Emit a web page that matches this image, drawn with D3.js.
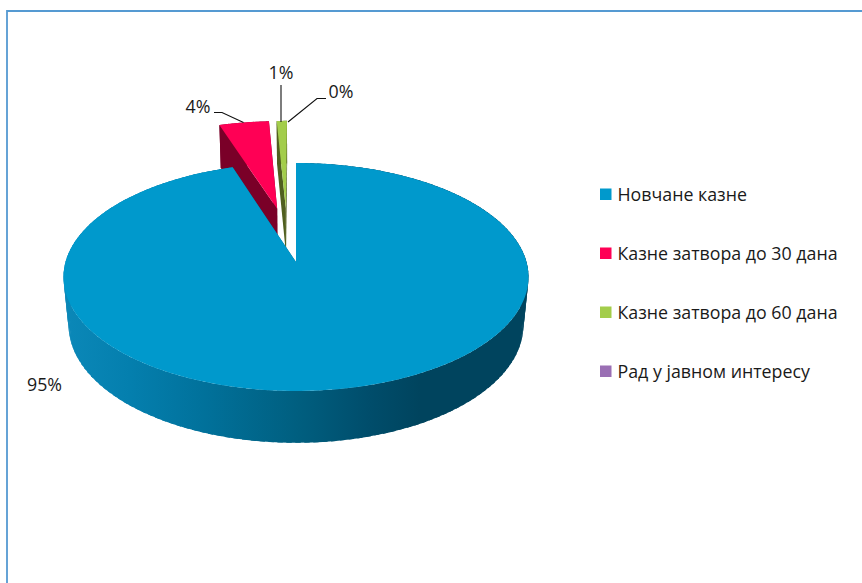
<!DOCTYPE html>
<html>
<head>
<meta charset="utf-8">
<script src="https://cdn.jsdelivr.net/npm/d3@7"></script>
<style>
    html, body { margin: 0; padding: 0; background: #fff; }
    svg { display: block; }
    text { font-family: "Open Sans", "Noto Sans", sans-serif; fill: #1a1a1a; }
</style>
</head>
<body>
<div id="chart"></div>
<script>
const categories = ['Новчане казне', 'Казне затвора до 30 дана', 'Казне затвора до 60 дана', 'Рад у јавном интересу'];
const values = [95, 4.15, 0.85, 0];
const percentLabels = ['95%', '4%', '1%', '0%'];
const topColors = ['#0099cc', '#ff0055', '#a3cd4b', '#9a6fb4'];
const sideColors = ['#00607f', '#7a0028', '#505f1f', '#4d3760'];

const width = 862, height = 583;
const labelSize = '17.8px';

const svg = d3.select('#chart').append('svg')
    .attr('width', width)
    .attr('height', height);
const defs = svg.append('defs');

// Frame of the chart area (only top and left are in the picture)
svg.append('path')
    .attr('d', `M7,${height}V11H${width}`)
    .attr('fill', 'none')
    .attr('stroke', '#559ad2')
    .attr('stroke-width', 1.8);

// Perspective view of the pie plane: u to the right, v towards the viewer, h down
const view = {cx: 296, cy: 262, a: 230.5, b: 112, c: 49, k: 0.1316, m: 0.022};
const explode = 0.257;

function project(u, v, h) {
    const w = 1 - view.k * v + view.m * h;
    return [view.cx + view.a * u / w, view.cy + (view.b * v + view.c * h) / w];
}

const pieAngles = d3.pie().sort(null).value(d => d)(values);
const blueMid = (pieAngles[0].startAngle + pieAngles[0].endAngle) / 2;
const centre = {u: -explode * Math.sin(blueMid), v: explode * Math.cos(blueMid)};

const slices = pieAngles.map((d, i) => {
    const mid = (d.startAngle + d.endAngle) / 2;
    return {
        index: i,
        start: d.startAngle,
        end: d.endAngle,
        u0: centre.u + explode * Math.sin(mid),
        v0: centre.v - explode * Math.cos(mid)
    };
}).filter(s => s.end > s.start);

const rimPoint = (s, angle, h) => project(s.u0 + Math.sin(angle), s.v0 - Math.cos(angle), h);
const tipPoint = (s, h) => project(s.u0, s.v0, h);
const line = d3.line();

// The rim goes darker from left to right, as in the lit 3D pie
const wallStops = [
    [64, '#0b88b8'], [130, '#047fae'], [200, '#01729c'], [296, '#005f80'],
    [370, '#004d6b'], [420, '#00445e'], [529, '#00445e']
];
const gradient = defs.append('linearGradient')
    .attr('id', 'wallShade')
    .attr('gradientUnits', 'userSpaceOnUse')
    .attr('x1', wallStops[0][0])
    .attr('x2', wallStops[wallStops.length - 1][0])
    .attr('y1', 0)
    .attr('y2', 0);
gradient.selectAll('stop')
    .data(wallStops)
    .enter()
    .append('stop')
    .attr('offset', d => (d[0] - wallStops[0][0]) / (wallStops[wallStops.length - 1][0] - wallStops[0][0]))
    .attr('stop-color', d => d[1]);

function drawSlice(s) {
    const g = svg.append('g');
    const steps = Math.max(2, Math.ceil((s.end - s.start) / (Math.PI / 90)));
    const angle = d3.scaleLinear().domain([0, steps]).range([s.start, s.end]);

    // cut faces
    [s.end, s.start].forEach(a => {
        g.append('path')
            .attr('d', line([tipPoint(s, 0), rimPoint(s, a, 0), rimPoint(s, a, 1), tipPoint(s, 1)]) + 'Z')
            .attr('fill', sideColors[s.index]);
    });

    // outer wall: overlapping facets make a clip, so no seams show between them
    const clipId = `wallClip${s.index}`;
    const clip = defs.append('clipPath').attr('id', clipId);
    d3.range(steps).forEach(j => {
        const a0 = angle(j), a1 = angle(Math.min(j + 1.6, steps));
        clip.append('path')
            .attr('d', line([rimPoint(s, a0, 0), rimPoint(s, a1, 0), rimPoint(s, a1, 1), rimPoint(s, a0, 1)]) + 'Z');
    });
    g.append('rect')
        .attr('width', width)
        .attr('height', height)
        .attr('clip-path', `url(#${clipId})`)
        .attr('fill', s.index === 0 ? 'url(#wallShade)' : sideColors[s.index]);

    // top surface
    const rim = d3.range(steps + 1).map(j => rimPoint(s, angle(j), 0));
    g.append('path')
        .attr('d', line([tipPoint(s, 0), ...rim]) + 'Z')
        .attr('fill', topColors[s.index]);
}

// back slices first, the big one covers them
slices.slice().reverse().forEach(drawSlice);

// Data labels
const labelLayout = [
    {x: 44.5, y: 391, leader: null},
    {x: 198, y: 113, leader: [[214, 112.5], [222, 112.5], [243.5, 122.5]]},
    {x: 281, y: 79, leader: [[281, 85], [281, 122]]},
    {x: 341, y: 98, leader: [[326, 98.5], [317, 98.5], [288, 122]]}
];

percentLabels.forEach((label, i) => {
    const l = labelLayout[i];
    svg.append('text')
        .attr('x', l.x)
        .attr('y', l.y)
        .attr('text-anchor', 'middle')
        .style('font-size', labelSize)
        .text(label);
    if (l.leader) {
        svg.append('path')
            .attr('d', line(l.leader))
            .attr('fill', 'none')
            .attr('stroke', '#111')
            .attr('stroke-width', 1.1);
    }
});

// Legend
const legendY = d3.scalePoint().domain(categories).range([194.5, 371.5]);
const legend = svg.selectAll('.legendItem')
    .data(categories)
    .enter()
    .append('g')
    .attr('class', 'legendItem')
    .attr('transform', d => `translate(600,${legendY(d)})`);

legend.append('rect')
    .attr('x', 0)
    .attr('y', -6)
    .attr('width', 11.5)
    .attr('height', 11.5)
    .attr('fill', (d, i) => topColors[i]);

legend.append('text')
    .attr('x', 17.5)
    .attr('y', 6)
    .style('font-size', labelSize)
    .text(d => d);
</script>
</body>
</html>
